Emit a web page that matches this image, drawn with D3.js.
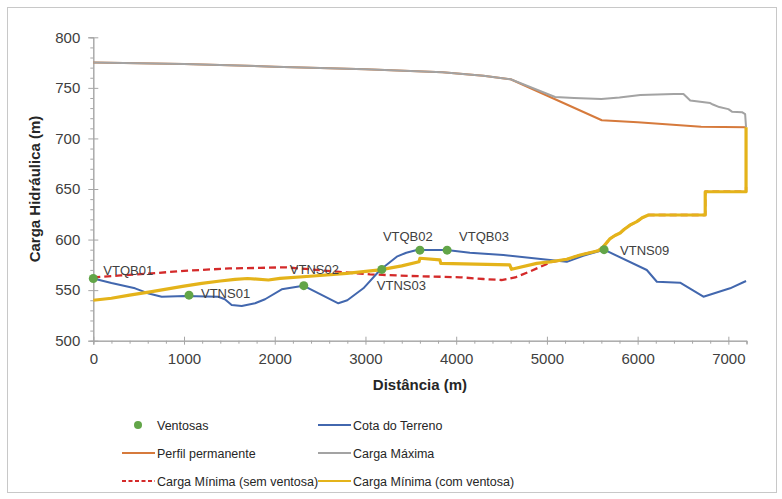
<!DOCTYPE html>
<html>
<head>
<meta charset="utf-8">
<script src="https://cdn.jsdelivr.net/npm/d3@7"></script>
<style>
  body { margin: 0; background: #fff; }
  text { font-family: "Liberation Sans", Arial, sans-serif; }
</style>
</head>
<body>
<svg id="chart" width="782" height="499"></svg>
<script>
// Perfil hidráulico da adutora: distância (m) x carga (m)
const xTicks = [0, 1000, 2000, 3000, 4000, 5000, 6000, 7000];
const yTicks = [500, 550, 600, 650, 700, 750, 800];

const cotaTerreno = [
  [0, 561.5], [200, 557], [460, 551.8], [600, 547], [754, 543.5], [1011, 544.2],
  [1378, 543.5], [1450, 541], [1525, 535.3], [1636, 534.3], [1783, 537], [1893, 541],
  [2077, 550.8], [2315, 554.4], [2500, 546], [2701, 537], [2800, 540], [2977, 551.8],
  [3161, 569.9], [3345, 583.1], [3450, 587], [3566, 589.7], [3896, 589.7], [4151, 587],
  [4520, 584.7], [5035, 579.8], [5219, 578], [5400, 584], [5630, 590], [6101, 569.9],
  [6212, 558.3], [6468, 557.4], [6725, 543.5], [7019, 551.8], [7195, 559]
];

const perfilPermanente = [
  [0, 775], [1000, 773.5], [2000, 771], [3000, 768.5], [3850, 765.5], [4300, 762],
  [4600, 758.5], [5605, 718], [6000, 716], [6700, 711.5], [7195, 711]
];

const cargaMaxima = [
  [0, 775], [1000, 773.5], [2000, 771], [3000, 768.5], [3850, 765.5], [4300, 762],
  [4600, 758.5], [5090, 741], [5300, 740], [5600, 739], [5800, 740.5], [6030, 743],
  [6400, 744], [6505, 744], [6540, 741], [6580, 737.5], [6800, 735], [6830, 733.5],
  [6900, 731], [7000, 729], [7040, 726.5], [7150, 726], [7185, 724], [7195, 711]
];

const cargaMinSemVentosa = [
  [0, 562.5], [300, 564.5], [644, 566.6], [1000, 569], [1500, 571.5], [1840, 572],
  [2114, 572.6], [2400, 570.5], [2683, 568.2], [3050, 565.6], [3500, 564], [4043, 562.7],
  [4300, 561], [4500, 560], [4650, 562.5], [4800, 568], [5054, 578], [5219, 580.5],
  [5366, 584.7], [5565, 589], [5623, 593], [5697, 601], [5750, 604], [5807, 606.5],
  [5850, 610], [5920, 614.5], [5991, 617.7], [6050, 621.5], [6119, 624.3],
  [6745, 624.3], [6745, 647.3], [7195, 647.3], [7195, 652]
];

const cargaMinComVentosa = [
  [0, 540], [200, 542], [400, 545], [644, 548.5], [1000, 554], [1195, 556.7],
  [1400, 559], [1562, 560.7], [1700, 561.5], [1930, 560], [2058, 561.6], [2425, 564],
  [2794, 566.6], [3160, 570], [3400, 574], [3590, 578], [3600, 581.5], [3820, 580],
  [3830, 576.5], [4590, 575], [4610, 570.6], [4888, 576.5], [5035, 578], [5219, 580.5],
  [5366, 584.7], [5565, 589], [5623, 593], [5697, 601], [5750, 604], [5807, 606.5],
  [5850, 610], [5920, 614.5], [5991, 617.7], [6050, 621.5], [6119, 624.3],
  [6745, 624.3], [6745, 647.3], [7195, 647.3], [7195, 711]
];

const ventosaNomes = ["VTQB01", "VTNS01", "VTNS02", "VTNS03", "VTQB02", "VTQB03", "VTNS09"];
const ventosaDist  = [0, 1055, 2320, 3180, 3600, 3900, 5630];
const ventosaCota  = [561.5, 545, 554.4, 570.5, 589.5, 589.5, 590];

// label placement relative to each marker (px)
const labelOffset = {
  VTQB01: [10, -4], VTNS01: [12, 3], VTNS02: [-14, -12], VTNS03: [-5, 21],
  VTQB02: [-37, -9], VTQB03: [12, -9], VTNS09: [16, 5]
};

const colors = {
  terreno: "#4267AE", perfil: "#D67A3C", maxima: "#A3A3A3",
  semVent: "#D42A2A", comVent: "#E4B31A", ventosa: "#62A548",
  axis: "#A6A6A6", text: "#404040"
};

const svg = d3.select("#chart");

// outer frame
svg.append("rect").attr("x", 7.5).attr("y", 7.5).attr("width", 769).attr("height", 485)
  .attr("fill", "none").attr("stroke", "#C8C8C8").attr("stroke-width", 1);

const x = d3.scaleLinear().domain([0, 7200]).range([93.3, 746.5]);
const y = d3.scaleLinear().domain([500, 800]).range([340.7, 37.3]);

// minor ticks
const minorX = d3.range(0, 7201, 200).filter(v => v % 1000 !== 0);
const minorY = d3.range(500, 801, 10).filter(v => v % 50 !== 0);

const gx = svg.append("g").attr("transform", `translate(0,${y(500)})`);
gx.call(d3.axisBottom(x).tickValues(minorX).tickSize(3).tickFormat(""));
gx.call(g => g.selectAll(".tick line").attr("stroke", colors.axis));
const gxMaj = svg.append("g").attr("transform", `translate(0,${y(500)})`)
  .call(d3.axisBottom(x).tickValues(xTicks).tickSize(4).tickPadding(9).tickFormat(d3.format("d")));
gxMaj.selectAll(".tick line").attr("y1", -4).attr("stroke", colors.axis);
gxMaj.selectAll(".tick text").attr("font-size", 15).attr("fill", colors.text)
  .style("font-family", "'Liberation Sans', Arial, sans-serif");
[gx, gxMaj].forEach(g => g.select(".domain").attr("stroke", colors.axis));

const gy = svg.append("g").attr("transform", `translate(${x(0)},0)`);
gy.call(d3.axisLeft(y).tickValues(minorY).tickSize(3).tickFormat(""));
gy.selectAll(".tick line").attr("stroke", colors.axis);
const gyMaj = svg.append("g").attr("transform", `translate(${x(0)},0)`)
  .call(d3.axisLeft(y).tickValues(yTicks).tickSize(5).tickPadding(8).tickFormat(d3.format("d")));
gyMaj.selectAll(".tick line").attr("x1", 5).attr("stroke", colors.axis);
gyMaj.selectAll(".tick text").attr("font-size", 15).attr("fill", colors.text)
  .style("font-family", "'Liberation Sans', Arial, sans-serif");
[gy, gyMaj].forEach(g => g.select(".domain").attr("stroke", colors.axis));

// axis titles
svg.append("text").attr("x", (x(0) + x(7200)) / 2).attr("y", 390)
  .attr("text-anchor", "middle").attr("font-size", 15).attr("font-weight", "bold")
  .attr("fill", "#262626").text("Distância (m)");
svg.append("text").attr("transform", `translate(40,${(y(500) + y(800)) / 2}) rotate(-90)`)
  .attr("text-anchor", "middle").attr("font-size", 15).attr("font-weight", "bold")
  .attr("fill", "#262626").text("Carga Hidráulica (m)");

const line = d3.line().x(d => x(d[0])).y(d => y(d[1]));

const series = [
  { data: cargaMinSemVentosa, color: colors.semVent, width: 2.3, dash: "7,4" },
  { data: cotaTerreno, color: colors.terreno, width: 2 },
  { data: perfilPermanente, color: colors.perfil, width: 2 },
  { data: cargaMaxima, color: colors.maxima, width: 2 },
  { data: cargaMinComVentosa, color: colors.comVent, width: 3.2 }
];
series.forEach(s => {
  svg.append("path").datum(s.data).attr("d", line)
    .attr("fill", "none").attr("stroke", s.color).attr("stroke-width", s.width)
    .attr("stroke-linejoin", "round")
    .attr("stroke-dasharray", s.dash || null);
});

// air valves
const ventosas = ventosaNomes.map((n, i) => ({ nome: n, d: ventosaDist[i], c: ventosaCota[i] }));
svg.append("g").selectAll("circle").data(ventosas).join("circle")
  .attr("cx", d => x(d.d)).attr("cy", d => y(d.c)).attr("r", 4.5)
  .attr("fill", colors.ventosa);
svg.append("g").selectAll("text").data(ventosas).join("text")
  .attr("x", d => x(d.d) + labelOffset[d.nome][0])
  .attr("y", d => y(d.c) + labelOffset[d.nome][1])
  .attr("font-size", 13).attr("fill", colors.text).text(d => d.nome);

// legend
const legendItems = [
  { label: "Ventosas", type: "dot", color: colors.ventosa, col: 0, row: 0 },
  { label: "Cota do Terreno", type: "line", color: colors.terreno, col: 1, row: 0 },
  { label: "Perfil permanente", type: "line", color: colors.perfil, col: 0, row: 1 },
  { label: "Carga Máxima", type: "line", color: colors.maxima, col: 1, row: 1 },
  { label: "Carga Mínima (sem ventosa)", type: "dash", color: colors.semVent, col: 0, row: 2 },
  { label: "Carga Mínima (com ventosa)", type: "line", color: colors.comVent, col: 1, row: 2 }
];
const colX = [122, 318];
const rowY = [425, 453, 481];
const lg = svg.append("g");
legendItems.forEach(it => {
  const x0 = colX[it.col], yy = rowY[it.row];
  if (it.type === "dot") {
    lg.append("circle").attr("cx", x0 + 16).attr("cy", yy).attr("r", 4).attr("fill", it.color);
  } else {
    lg.append("line").attr("x1", x0).attr("x2", x0 + 33).attr("y1", yy).attr("y2", yy)
      .attr("stroke", it.color).attr("stroke-width", 2.2)
      .attr("stroke-dasharray", it.type === "dash" ? "4,2.5" : null);
  }
  lg.append("text").attr("x", x0 + 35).attr("y", yy + 4.5)
    .attr("font-size", 12.5).attr("fill", "#262626").text(it.label);
});
</script>
</body>
</html>
